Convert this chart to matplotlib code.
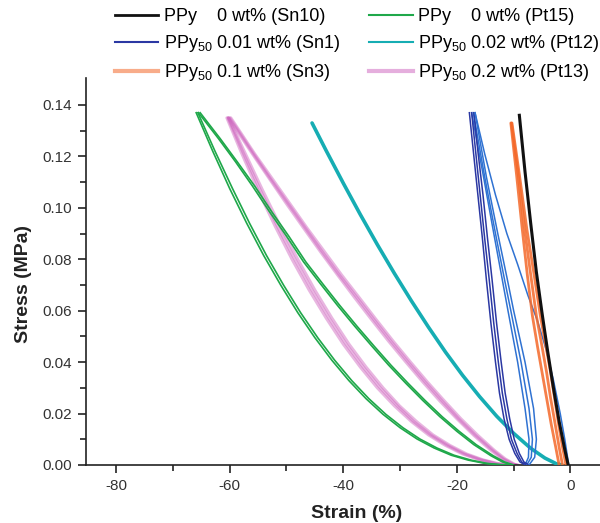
import matplotlib
matplotlib.use("Agg")
import matplotlib.pyplot as plt

plt.rcParams['font.family'] = ['Liberation Sans', 'DejaVu Sans']
plt.rcParams['mathtext.fontset'] = 'custom'
plt.rcParams['mathtext.rm'] = 'Liberation Sans'
plt.rcParams['mathtext.it'] = 'Liberation Sans:italic'
plt.rcParams['mathtext.bf'] = 'Liberation Sans:bold'

# ---------------- data (strain %, stress MPa) ----------------
labels = ['PPy    0 wt% (Sn10)', 'PPy$_{50}$ 0.01 wt% (Sn1)', 'PPy$_{50}$ 0.1 wt% (Sn3)',
          'PPy    0 wt% (Pt15)', 'PPy$_{50}$ 0.02 wt% (Pt12)', 'PPy$_{50}$ 0.2 wt% (Pt13)']

# Sn10 (black)
sn10_strain = [-9.0, -8.0, -7.0, -6.0, -5.0, -4.0, -3.0, -2.0, -1.0, -0.4]
sn10_stress = [0.136, 0.114, 0.094, 0.075, 0.059, 0.044, 0.030, 0.017, 0.006, 0.0]

# Sn3 (orange) - three overlapping cycles
sn3_stress = [0.133, 0.113, 0.092, 0.074, 0.058, 0.046, 0.036, 0.026, 0.016, 0.007, 0.0]
sn3_a_strain = [-10.5, -9.5, -8.5, -7.6, -6.7, -5.8, -5.0, -4.2, -3.4, -2.6, -2.0]
sn3_b_strain = [-10.4, -9.2, -8.1, -7.0, -6.0, -5.0, -4.2, -3.5, -2.7, -2.0, -1.4]
sn3_c_strain = [-10.3, -9.0, -7.7, -6.4, -5.3, -4.3, -3.5, -2.8, -2.1, -1.4, -0.8]

# Sn1 (blue) - first loading, then unloading / reloading loops
sn1_load0_strain = [-0.3, -1.0, -1.8, -3.0, -4.3, -5.8, -7.5, -9.3, -11.2, -13.2, -15.1, -16.8]
sn1_load0_stress = [0.0, 0.010, 0.020, 0.033, 0.045, 0.056, 0.066, 0.078, 0.090, 0.105, 0.121, 0.137]
sn1_un_stress = [0.137, 0.122, 0.105, 0.088, 0.072, 0.055, 0.040, 0.028, 0.018, 0.010, 0.0045, 0.0012, 0.0]
sn1_un1_strain = [-17.8, -17.1, -16.3, -15.5, -14.8, -14.0, -13.2, -12.5, -11.7, -10.8, -9.8, -8.9, -8.0]
sn1_un2_strain = [-17.4, -16.7, -15.9, -15.1, -14.3, -13.5, -12.7, -12.0, -11.2, -10.4, -9.4, -8.6, -7.7]
sn1_un3_strain = [-17.0, -16.3, -15.4, -14.6, -13.8, -13.0, -12.2, -11.5, -10.7, -9.9, -9.0, -8.2, -7.3]
sn1_re_stress = [0.0, 0.003, 0.010, 0.022, 0.040, 0.060, 0.072, 0.090, 0.112, 0.137]
sn1_re1_strain = [-8.0, -7.4, -7.3, -8.0, -9.3, -11.0, -12.0, -13.5, -15.3, -17.4]
sn1_re2_strain = [-7.7, -6.9, -6.7, -7.3, -8.7, -10.5, -11.6, -13.2, -15.1, -17.1]
sn1_re3_strain = [-7.3, -6.3, -6.0, -6.5, -8.0, -10.0, -11.1, -12.8, -14.8, -16.8]

# Pt15 (green) - loading (upper) and unloading (lower), two cycles
pt15_load_stress = [0.0, 0.0012, 0.0036, 0.0079, 0.0131, 0.0188, 0.0251, 0.0318, 0.0388, 0.0463,
                    0.0540, 0.0620, 0.0704, 0.0790, 0.0890, 0.0985, 0.1085, 0.1180, 0.1270, 0.1370]
pt15_load1_strain = [-10.3, -12.0, -14.0, -17.0, -20.0, -23.0, -26.0, -29.0, -32.0, -35.0,
                     -38.0, -41.0, -44.0, -47.0, -50.0, -53.0, -56.0, -59.0, -62.0, -65.5]
pt15_load2_strain = [-10.0, -11.6, -13.6, -16.6, -19.6, -22.6, -25.6, -28.6, -31.6, -34.6,
                     -37.6, -40.6, -43.6, -46.6, -49.6, -52.6, -55.6, -58.7, -61.7, -65.2]
pt15_un_stress = [0.137, 0.1221, 0.1075, 0.0940, 0.0814, 0.0699, 0.0592, 0.0495, 0.0407, 0.0328,
                  0.0258, 0.0197, 0.0145, 0.0101, 0.0066, 0.0038, 0.0019, 0.0006, 0.0001, 0.0]
pt15_un1_strain = [-65.9, -63.0, -60.0, -57.0, -54.0, -51.0, -48.0, -45.0, -42.0, -39.0,
                   -36.0, -33.0, -30.0, -27.0, -24.0, -21.0, -18.0, -15.0, -12.5, -10.5]
pt15_un2_strain = [-65.6, -62.6, -59.5, -56.5, -53.5, -50.5, -47.5, -44.5, -41.5, -38.5,
                   -35.5, -32.5, -29.5, -26.5, -23.5, -20.5, -17.5, -14.6, -12.1, -10.2]

# Pt12 (teal)
pt12_strain = [-45.5, -43.0, -40.0, -37.0, -34.0, -31.0, -28.0, -25.0, -22.0, -19.0,
               -16.0, -13.0, -10.0, -7.0, -4.5, -2.5, -1.5]
pt12_stress = [0.133, 0.1222, 0.1096, 0.0974, 0.0857, 0.0745, 0.0638, 0.0536, 0.0439, 0.0349,
               0.0266, 0.0190, 0.0123, 0.0065, 0.0027, 0.0005, 0.0]

# Pt13 (magenta) - loading (upper) and unloading (lower), three cycles
pt13_load_stress = [0.0, 0.0024, 0.0057, 0.0115, 0.0180, 0.0249, 0.0323, 0.0401, 0.0481, 0.0565,
                    0.0651, 0.0739, 0.0829, 0.0922, 0.1016, 0.1113, 0.1210, 0.1350]
pt13_load1_strain = [-10.0, -12.0, -14.0, -17.0, -20.0, -23.0, -26.0, -29.0, -32.0, -35.0,
                     -38.0, -41.0, -44.0, -47.0, -50.0, -53.0, -56.0, -60.2]
pt13_load2_strain = [-9.6, -11.5, -13.4, -16.3, -19.3, -22.2, -25.2, -28.2, -31.2, -34.2,
                     -37.2, -40.3, -43.3, -46.4, -49.4, -52.5, -55.6, -59.8]
pt13_load3_strain = [-9.8, -11.8, -13.7, -16.7, -19.7, -22.6, -25.6, -28.6, -31.6, -34.6,
                     -37.6, -40.7, -43.7, -46.7, -49.7, -52.8, -55.8, -60.0]
pt13_un_stress = [0.135, 0.1218, 0.1068, 0.0929, 0.0799, 0.0680, 0.0571, 0.0470, 0.0381, 0.0300,
                  0.0230, 0.0169, 0.0117, 0.0076, 0.0043, 0.0020, 0.0004, 0.0]
pt13_un1_strain = [-60.5, -58.0, -55.0, -52.0, -49.0, -46.0, -43.0, -40.0, -37.0, -34.0,
                   -31.0, -28.0, -25.0, -22.0, -19.0, -16.0, -13.0, -9.5]
pt13_un2_strain = [-60.2, -57.4, -54.2, -51.1, -48.0, -45.0, -42.0, -39.0, -36.0, -33.0,
                   -30.1, -27.1, -24.2, -21.2, -18.3, -15.4, -12.5, -9.2]
pt13_un3_strain = [-60.3, -57.7, -54.6, -51.6, -48.5, -45.5, -42.5, -39.5, -36.5, -33.5,
                   -30.5, -27.6, -24.6, -21.6, -18.7, -15.7, -12.8, -9.4]

x_ticks = [-80, -60, -40, -20, 0]
x_minor = [-70, -50, -30, -10]
y_ticks = [0.00, 0.02, 0.04, 0.06, 0.08, 0.10, 0.12, 0.14]
y_minor = [0.01, 0.03, 0.05, 0.07, 0.09, 0.11, 0.13]

# ---------------- styles ----------------
c_black = '#111111'
c_blue1 = '#2b38a3'
c_blue2 = '#2f72d2'
c_orange = '#f4692a'
c_green = '#1fa84a'
c_teal = '#16adb3'
c_mag = '#cc5fbc'

fig = plt.figure(figsize=(6.0, 5.23), dpi=100)
ax = fig.add_axes([86/600, 1 - 465/523, (600 - 86)/600, (465 - 78)/523])

# magenta (Pt13)
for s, t in [(pt13_load1_strain, pt13_load_stress), (pt13_un1_strain, pt13_un_stress),
             (pt13_load2_strain, pt13_load_stress), (pt13_un2_strain, pt13_un_stress),
             (pt13_load3_strain, pt13_load_stress), (pt13_un3_strain, pt13_un_stress)]:
    ax.plot(s, t, color=c_mag, lw=2.2, alpha=0.45, solid_capstyle='round',
            solid_joinstyle='round', zorder=2)

# green (Pt15)
for s, t in [(pt15_load1_strain, pt15_load_stress), (pt15_load2_strain, pt15_load_stress),
             (pt15_un1_strain, pt15_un_stress), (pt15_un2_strain, pt15_un_stress)]:
    ax.plot(s, t, color=c_green, lw=1.2, zorder=3)

# teal (Pt12)
ax.plot(pt12_strain, pt12_stress, color=c_teal, lw=2.6, zorder=3, solid_capstyle='round')

# blue (Sn1)
ax.plot(sn1_load0_strain, sn1_load0_stress, color=c_blue2, lw=1.1, zorder=4)
for i, (s, t) in enumerate([(sn1_un1_strain, sn1_un_stress), (sn1_re1_strain, sn1_re_stress),
                            (sn1_un2_strain, sn1_un_stress), (sn1_re2_strain, sn1_re_stress),
                            (sn1_un3_strain, sn1_un_stress), (sn1_re3_strain, sn1_re_stress)]):
    ax.plot(s, t, color=c_blue1 if i % 2 == 0 else c_blue2, lw=1.1, zorder=4)

# orange (Sn3)
for s in [sn3_a_strain, sn3_b_strain, sn3_c_strain]:
    ax.plot(s, sn3_stress, color=c_orange, lw=2.0, alpha=0.85, solid_capstyle='round', zorder=5)

# black (Sn10)
ax.plot(sn10_strain, sn10_stress, color=c_black, lw=2.2, zorder=6)

# legend handles
h = []
h.append(ax.plot([], [], color=c_black, lw=2.0)[0])
h.append(ax.plot([], [], color=c_blue1, lw=1.5)[0])
h.append(ax.plot([], [], color=c_orange, lw=3.0, alpha=0.55)[0])
h.append(ax.plot([], [], color=c_green, lw=1.5)[0])
h.append(ax.plot([], [], color=c_teal, lw=1.5)[0])
h.append(ax.plot([], [], color=c_mag, lw=3.0, alpha=0.5)[0])
fig.legend(h, labels, ncol=2, loc='upper left', bbox_to_anchor=(115/600, 1 - 8/523),
           frameon=False, fontsize=13, handlelength=2.4, handletextpad=0.3,
           columnspacing=1.6, labelspacing=0.45, borderpad=0, borderaxespad=0)

# axes styling
ax.set_xlim(-85.3, 5.2)
ax.set_ylim(0, 0.1505)
ax.set_xticks(x_ticks)
ax.set_xticklabels([str(v) for v in x_ticks])
ax.set_xticks(x_minor, minor=True)
ax.set_yticks(y_ticks)
ax.set_yticklabels(['%.2f' % v for v in y_ticks])
ax.set_yticks(y_minor, minor=True)
for side in ['top', 'right']:
    ax.spines[side].set_visible(False)
for side in ['left', 'bottom']:
    ax.spines[side].set_linewidth(1.2)
    ax.spines[side].set_color('#222222')
ax.tick_params(axis='both', which='major', direction='out', length=6, width=1.2,
               labelsize=11, colors='#222222', labelcolor='#333333', pad=4)
ax.tick_params(axis='both', which='minor', direction='out', length=4, width=1.2, colors='#222222')
ax.set_xlabel('Strain (%)', fontsize=14, fontweight='bold', color='#222222')
ax.set_ylabel('Stress (MPa)', fontsize=14, fontweight='bold', color='#222222')
ax.xaxis.set_label_coords(0.527, -0.103)
ax.yaxis.set_label_coords(-0.105, 0.468)

fig.savefig('out.png', dpi=100)
